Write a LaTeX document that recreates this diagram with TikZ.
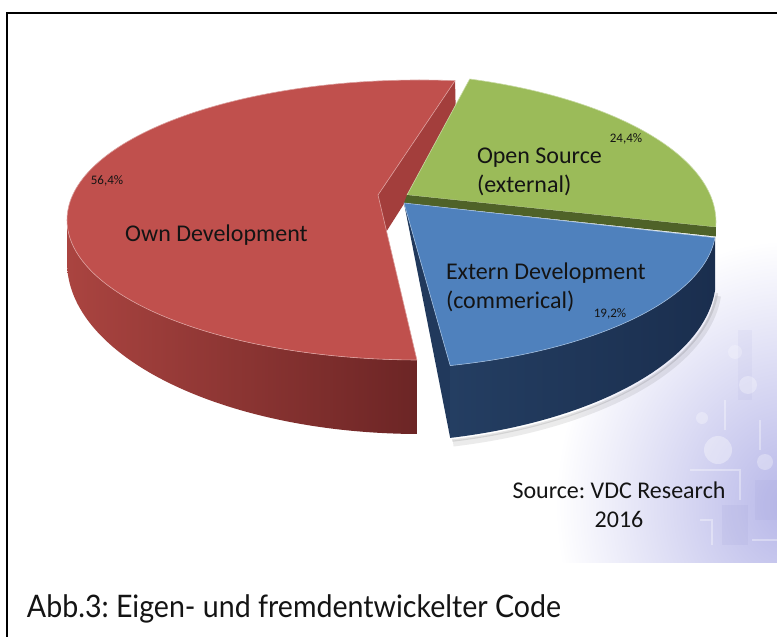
\documentclass[tikz,border=0pt]{standalone}
\usepackage{fontspec}
\setmainfont{Carlito}
\newfontfamily\capfont{Lato}
\frenchspacing

\definecolor{txt}{RGB}{20,20,20}
\definecolor{redtop}{RGB}{192,80,77}
\definecolor{redwall}{RGB}{163,62,60}
\definecolor{redsideL}{RGB}{170,68,64}
\definecolor{redsideM}{RGB}{148,57,54}
\definecolor{redsideR}{RGB}{108,37,37}
\definecolor{greentop}{RGB}{155,187,89}
\definecolor{greendark}{RGB}{79,98,40}
\definecolor{bluetop}{RGB}{79,129,189}
\definecolor{navyL}{RGB}{36,62,98}
\definecolor{navyR}{RGB}{26,46,78}
\definecolor{navywall}{RGB}{33,57,92}
\definecolor{lav}{RGB}{182,182,232}
\definecolor{lavdark}{RGB}{150,150,210}

% scale a line of text horizontally to a given width (in pt)
\newsavebox\capbox
\newcommand\capfit[2]{\sbox\capbox{#2}\pgfmathsetmacro\capsx{#1/\the\wd\capbox}\scalebox{\capsx}[1]{\usebox\capbox}}

\begin{document}
\begin{tikzpicture}[x=1pt, y=-1pt,
  every node/.style={inner sep=0pt, outer sep=0pt, text=txt},
  face/.style={line width=0.6pt, line join=round},
  lbl/.style={font=\fontsize{24}{29}\selectfont, align=left},
  pct/.style={font=\fontsize{13}{15}\selectfont},
  trace/.style={white, opacity=0.35, line width=1.2pt},
]
\useasboundingbox (0,0) rectangle (777,637);
\fill[white] (0,0) rectangle (777,637);

% faint circuit-board backdrop behind the source note
\begin{scope}
  \clip (540,150) rectangle (777,562);
  \shade[inner color=lav, outer color=white] (790,505) ellipse[x radius=235, y radius=265];
  \fill[lavdark, opacity=0.12] (722,505) rectangle (748,545);
  \fill[lavdark, opacity=0.10] (755,480) rectangle (777,520);
  \fill[lavdark, opacity=0.08] (738,330) rectangle (752,400);
  \fill[white, opacity=0.35] (718,450) circle[radius=14];
  \fill[white, opacity=0.3] (748,385) circle[radius=9];
  \fill[white, opacity=0.3] (702,418) circle[radius=6];
  \fill[white, opacity=0.25] (735,352) circle[radius=7];
  \fill[white, opacity=0.3] (765,462) circle[radius=8];
  \draw[trace] (690,470) -- (740,470) -- (740,500);
  \draw[trace] (760,420) -- (760,450);
  \draw[trace] (700,520) -- (712,520) -- (712,545);
  \draw[trace] (752,540) -- (777,540);
  \draw[trace] (725,400) -- (725,430);
\end{scope}

% soft shadow under the blue slice
\draw[black, opacity=0.08, line width=6pt] (718,296) arc[start angle=4.3, end angle=75.7, x radius=353, y radius=165];
\draw[black, opacity=0.10, line width=2.5pt] (717,293) arc[start angle=4.3, end angle=75.7, x radius=353, y radius=165];

% red slice: outer side, cut wall, top face
\shade[left color=redsideL, middle color=redsideM, right color=redsideR]
  (67,220) arc[start angle=180, end angle=90.5, x radius=353, y radius=140]
  -- ++(0,74) arc[start angle=90.5, end angle=180, x radius=353, y radius=172] -- cycle;
\fill[redwall] (378,195) -- (455.05,80.7) -- (456,122) -- (381,240) -- cycle;
\filldraw[redtop, face, draw=redtop!55!white]
  (378,195) -- (455.05,80.7)
  arc[start angle=-84.3, end angle=-269.5, x radius=353, y radius=140] -- cycle;

% green slice: top face and the visible strip of its cut wall
\filldraw[greentop, face, draw=greentop!55!white]
  (407,195) -- (469.7,79)
  arc[start angle=-72.4, end angle=2, x radius=353, y radius=150] -- cycle;
\fill[greendark] (407,195) -- (715.8,227.2) -- (715.8,236.5) -- (404,203) -- cycle;

% blue slice: cut wall, outer side, top face
\fill[navywall] (404,203) -- (450.2,365.6) -- (450.2,437.9) -- cycle;
\shade[left color=navyL, right color=navyR]
  (715,237.7) arc[start angle=4.3, end angle=75.7, x radius=353, y radius=143]
  -- (450.2,437.9) arc[start angle=75.7, end angle=4.3, x radius=353, y radius=165] -- cycle;
\filldraw[bluetop, face, draw=bluetop!55!white]
  (404,203) -- (715,237.7)
  arc[start angle=4.3, end angle=75.7, x radius=353, y radius=143] -- cycle;

% slice labels (two-line nodes are anchored at the baseline of their last line)
\node[lbl, anchor=base] (own) at (216.5,241) {Own Development};
\node[pct, anchor=base] (p564) at (107,184) {56,4\%};
\node[lbl, anchor=base west] (oss) at (477,192) {Open Source\\(external)};
\node[pct, anchor=base] (p244) at (626,142) {24,4\%};
\node[lbl, anchor=base west] (ext) at (446,308) {Extern Development\\(commerical)};
\node[pct, anchor=base] (p192) at (610,317) {19,2\%};

% source note
\node[lbl, align=center, anchor=base] (src) at (619,527) {Source: VDC Research\\2016};

% caption
\node[anchor=base west] (cap) at (27,617)
  {\capfont\fontsize{31}{36}\selectfont\capfit{534}{Abb.3: Eigen- und fremdentwickelter Code}};

% frame
\draw[line width=2pt] (7,637) -- (7,12.5) -- (777,12.5);
\end{tikzpicture}
\end{document}
